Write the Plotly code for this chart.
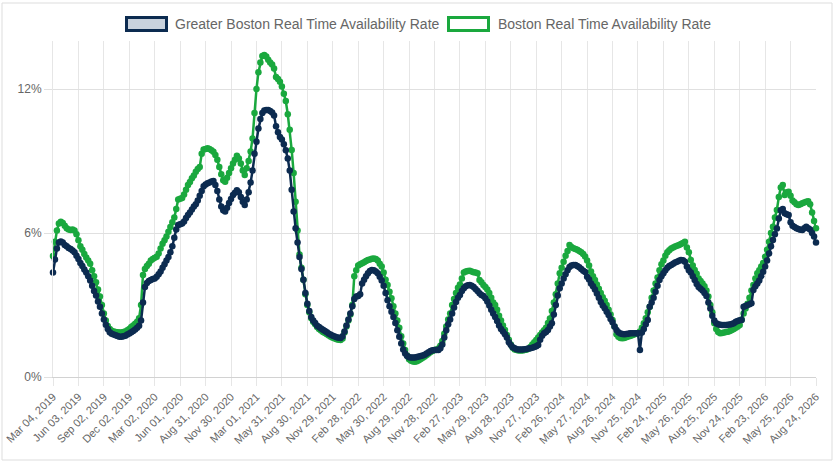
import pandas as pd
import plotly.graph_objects as go

# weekly dates, Mar 04 2019 .. Aug 24 2026
weeks = pd.date_range("2019-03-04", periods=391, freq="7D")

# Greater Boston real time availability rate (%), one row per 13 weeks
greater_boston = [
    4.35, 4.9, 5.35, 5.6, 5.65, 5.6, 5.5, 5.45, 5.38, 5.33, 5.27, 5.2, 5.05,
    4.92, 4.75, 4.62, 4.48, 4.35, 4.2, 4.02, 3.8, 3.58, 3.4, 3.15, 2.93, 2.65,
    2.4, 2.18, 2.0, 1.86, 1.8, 1.77, 1.74, 1.71, 1.68, 1.68, 1.7, 1.72, 1.77,
    1.81, 1.86, 1.92, 1.98, 2.05, 2.14, 2.35, 3.1, 3.75, 3.92, 4.0, 4.04, 4.08,
    4.1, 4.18, 4.28, 4.4, 4.55, 4.7, 4.85, 5.0, 5.2, 5.45, 5.8, 6.15, 6.33,
    6.36, 6.4, 6.48, 6.62, 6.75, 6.85, 6.98, 7.1, 7.2, 7.35, 7.55, 7.75, 7.95,
    8.02, 8.07, 8.1, 8.15, 8.17, 8.0, 7.75, 7.4, 7.1, 6.95, 6.9, 7.05, 7.25,
    7.42, 7.58, 7.68, 7.78, 7.7, 7.5, 7.3, 7.17, 7.4, 7.7, 8.1, 8.6, 9.3,
    9.8, 10.35, 10.75, 11.0, 11.1, 11.12, 11.13, 11.08, 11.02, 10.9, 10.45, 10.2, 10.0,
    9.9, 9.7, 9.45, 9.1, 8.6, 7.8, 6.9, 6.2, 5.6, 5.0, 4.5, 4.05, 3.5,
    3.05, 2.75, 2.5, 2.35, 2.25, 2.14, 2.08, 2.02, 1.97, 1.92, 1.86, 1.8, 1.76,
    1.72, 1.69, 1.66, 1.64, 1.62, 1.7, 1.9, 2.15, 2.4, 2.65, 2.95, 3.25, 3.35,
    3.38, 3.45, 3.9, 4.05, 4.2, 4.32, 4.42, 4.46, 4.45, 4.4, 4.32, 4.18, 4.02,
    3.8, 3.5, 3.2, 2.95, 2.72, 2.5, 2.25, 1.95, 1.68, 1.4, 1.15, 0.98, 0.88,
    0.82, 0.81, 0.81, 0.81, 0.83, 0.85, 0.87, 0.9, 0.93, 0.98, 1.03, 1.08, 1.11,
    1.12, 1.12, 1.12, 1.2, 1.35, 1.65, 1.95, 2.2, 2.4, 2.65, 2.9, 3.12, 3.3,
    3.42, 3.58, 3.7, 3.78, 3.82, 3.83, 3.8, 3.75, 3.67, 3.58, 3.49, 3.42, 3.38,
    3.28, 3.15, 2.98, 2.8, 2.65, 2.5, 2.33, 2.15, 2.0, 1.9, 1.78, 1.65, 1.45,
    1.32, 1.24, 1.2, 1.16, 1.15, 1.15, 1.15, 1.16, 1.17, 1.19, 1.2, 1.22, 1.25,
    1.28, 1.33, 1.55, 1.72, 1.82, 1.88, 1.96, 2.1, 2.24, 2.6, 3.0, 3.4, 3.7,
    3.9, 4.1, 4.28, 4.45, 4.58, 4.65, 4.67, 4.67, 4.63, 4.57, 4.5, 4.43, 4.37,
    4.18, 4.06, 3.9, 3.78, 3.65, 3.48, 3.3, 3.12, 2.98, 2.86, 2.72, 2.58, 2.42,
    2.28, 2.1, 1.96, 1.86, 1.81, 1.79, 1.78, 1.79, 1.8, 1.82, 1.82, 1.82, 1.82,
    1.82, 1.12, 1.85, 2.0, 2.2, 2.37, 2.93, 3.1, 3.3, 3.55, 3.8, 4.04, 4.2,
    4.32, 4.45, 4.55, 4.62, 4.67, 4.72, 4.77, 4.8, 4.84, 4.88, 4.86, 4.8, 4.6,
    4.45, 4.35, 4.2, 4.04, 3.88, 3.75, 3.68, 3.6, 3.5, 3.38, 3.1, 2.85, 2.55,
    2.35, 2.24, 2.2, 2.18, 2.17, 2.17, 2.17, 2.18, 2.19, 2.21, 2.24, 2.3, 2.33,
    2.36, 2.38, 2.93, 2.96, 3.0, 3.03, 3.07, 3.63, 3.78, 3.9, 4.02, 4.2, 4.39,
    4.6, 4.85, 5.15, 5.45, 5.71, 5.95, 6.19, 6.6, 6.95, 7.0, 6.82, 6.78, 6.75,
    6.45, 6.3, 6.25, 6.2, 6.17, 6.14, 6.13, 6.2, 6.26, 6.2, 6.15, 6.0, 5.85,
    5.6,
]

# Boston real time availability rate (%)
boston = [
    5.04, 5.64, 6.1, 6.4, 6.47, 6.42, 6.3, 6.2, 6.15, 6.12, 6.15, 6.1, 5.95,
    5.7, 5.45, 5.3, 5.12, 4.98, 4.85, 4.72, 4.45, 4.2, 3.95, 3.65, 3.35, 3.0,
    2.65, 2.35, 2.12, 2.0, 1.93, 1.9, 1.88, 1.86, 1.85, 1.85, 1.87, 1.9, 1.95,
    2.0, 2.08, 2.15, 2.22, 2.3, 2.45, 3.0, 4.25, 4.5, 4.62, 4.72, 4.85, 4.92,
    4.97, 5.01, 5.15, 5.35, 5.55, 5.7, 5.85, 6.05, 6.25, 6.45, 6.65, 7.0, 7.4,
    7.43, 7.46, 7.6, 7.8, 8.0, 8.12, 8.28, 8.4, 8.55, 8.67, 8.75, 9.3, 9.48,
    9.5, 9.53, 9.5, 9.45, 9.39, 9.25, 9.05, 8.75, 8.45, 8.2, 8.14, 8.3, 8.5,
    8.7, 8.9, 9.05, 9.22, 9.1, 8.9, 8.6, 8.42, 8.7, 9.0, 9.4, 9.94, 11.0,
    12.0, 12.7, 13.1, 13.38, 13.42, 13.35, 13.22, 13.1, 13.02, 12.85, 12.5, 12.42, 12.3,
    12.1, 11.8, 11.5, 10.95, 10.3, 9.46, 8.5, 7.3, 6.1, 5.1, 4.55, 4.05, 3.45,
    3.0, 2.7, 2.45, 2.3, 2.2, 2.08, 2.0, 1.94, 1.88, 1.83, 1.78, 1.73, 1.68,
    1.64, 1.6, 1.57, 1.55, 1.54, 1.6, 1.85, 2.1, 2.35, 2.6, 3.0, 4.2, 4.45,
    4.65, 4.7, 4.74, 4.78, 4.83, 4.88, 4.9, 4.93, 4.94, 4.92, 4.85, 4.72, 4.6,
    4.35, 4.05, 3.83, 3.55, 3.28, 2.95, 2.65, 2.35, 2.05, 1.7, 1.4, 1.12, 0.9,
    0.74, 0.68, 0.65, 0.64, 0.66, 0.7, 0.75, 0.8, 0.85, 0.92, 0.98, 1.04, 1.08,
    1.12, 1.15, 1.19, 1.3, 1.5, 1.8, 2.1, 2.4, 2.65, 3.0, 3.25, 3.5, 3.72,
    3.85, 4.1, 4.35, 4.4, 4.42, 4.43, 4.4, 4.36, 4.35, 4.32, 4.04, 3.95, 3.83,
    3.75, 3.65, 3.5, 3.3, 3.1, 3.0, 2.8, 2.55, 2.35, 2.15, 1.96, 1.75, 1.55,
    1.35, 1.22, 1.15, 1.12, 1.1, 1.1, 1.1, 1.12, 1.14, 1.18, 1.25, 1.35, 1.45,
    1.54, 1.65, 1.75, 1.85, 1.95, 2.05, 2.25, 2.44, 2.75, 3.1, 3.45, 3.9, 4.32,
    4.55, 4.8, 5.05, 5.25, 5.5, 5.42, 5.36, 5.33, 5.3, 5.25, 5.2, 5.12, 5.02,
    4.85, 4.65, 4.4, 4.2, 4.04, 3.85, 3.68, 3.5, 3.32, 3.18, 3.0, 2.8, 2.6,
    2.38, 2.1, 1.78, 1.68, 1.63, 1.61, 1.63, 1.66, 1.69, 1.71, 1.74, 1.77, 1.8,
    1.82, 1.9, 2.05, 2.24, 2.45, 2.7, 2.93, 3.3, 3.6, 3.9, 4.15, 4.45, 4.7,
    4.85, 5.05, 5.2, 5.28, 5.35, 5.4, 5.44, 5.47, 5.5, 5.54, 5.58, 5.64, 5.4,
    5.2, 4.88, 4.65, 4.46, 4.3, 4.1, 4.0, 3.9, 3.78, 3.6, 3.35, 3.0, 2.7,
    2.24, 2.0, 1.88, 1.82, 1.83, 1.85, 1.87, 1.89, 1.92, 1.96, 2.0, 2.05, 2.1,
    2.17, 2.4, 2.65, 2.85, 3.05, 3.3, 3.6, 3.83, 4.1, 4.32, 4.45, 4.6, 4.75,
    5.01, 5.3, 5.64, 6.0, 6.26, 6.65, 6.96, 7.5, 7.9, 8.0, 7.58, 7.7, 7.72,
    7.55, 7.35, 7.28, 7.2, 7.17, 7.2, 7.24, 7.27, 7.3, 7.32, 7.2, 6.85, 6.5,
    6.2,
]

tick_labels = [
    "Mar 04, 2019", "Jun 03, 2019", "Sep 02, 2019", "Dec 02, 2019",
    "Mar 02, 2020", "Jun 01, 2020", "Aug 31, 2020", "Nov 30, 2020",
    "Mar 01, 2021", "May 31, 2021", "Aug 30, 2021", "Nov 29, 2021",
    "Feb 28, 2022", "May 30, 2022", "Aug 29, 2022", "Nov 28, 2022",
    "Feb 27, 2023", "May 29, 2023", "Aug 28, 2023", "Nov 27, 2023",
    "Feb 26, 2024", "May 27, 2024", "Aug 26, 2024", "Nov 25, 2024",
    "Feb 24, 2025", "May 26, 2025", "Aug 25, 2025", "Nov 24, 2025",
    "Feb 23, 2026", "May 25, 2026", "Aug 24, 2026",
]
tick_dates = weeks[::13]
y_ticks = [0, 6, 12]
y_labels = ["0%", "6%", "12%"]

NAVY = "#0c2b50"
GREEN = "#1aa83e"
FONT = "Liberation Sans"

# plot area in pixels (836x464 page)
L, R, T, B = 53, 816, 41, 377


def px(x):
    return (x - L) / (R - L)


def py(y):
    return (B - y) / (B - T)


fig = go.Figure()
# green first so the navy line sits on top
fig.add_trace(go.Scatter(
    x=weeks, y=boston, mode="lines+markers", name="Boston Real Time Availability Rate",
    line=dict(color=GREEN, width=2.5), marker=dict(color=GREEN, size=6.5),
    cliponaxis=False, showlegend=False,
))
fig.add_trace(go.Scatter(
    x=weeks, y=greater_boston, mode="lines+markers",
    name="Greater Boston Real Time Availability Rate",
    line=dict(color=NAVY, width=2.5), marker=dict(color=NAVY, size=6.5),
    cliponaxis=False, showlegend=False,
))

# hand-made legend (chart.js style boxes) and outer frame
shapes = [
    dict(type="rect", xref="paper", yref="paper",
         x0=px(2), x1=px(832), y0=py(460), y1=py(3),
         line=dict(color="#dddddd", width=1), fillcolor="rgba(0,0,0,0)", layer="below"),
    dict(type="rect", xref="paper", yref="paper",
         x0=px(126.5), x1=px(166.5), y0=py(30.5), y1=py(17.5),
         line=dict(color=NAVY, width=3), fillcolor="#c9d2dd"),
    dict(type="rect", xref="paper", yref="paper",
         x0=px(448.5), x1=px(488.5), y0=py(30.5), y1=py(17.5),
         line=dict(color=GREEN, width=3), fillcolor="white"),
]
annotations = [
    dict(xref="paper", yref="paper", x=px(173), y=py(24), xanchor="left", yanchor="middle",
         text="Greater Boston Real Time Availability Rate", showarrow=False,
         font=dict(family=FONT, size=14, color="#666666")),
    dict(xref="paper", yref="paper", x=px(496), y=py(24), xanchor="left", yanchor="middle",
         text="Boston Real Time Availability Rate", showarrow=False,
         font=dict(family=FONT, size=14, color="#666666")),
]

fig.update_layout(
    width=836, height=464,
    margin=dict(l=L, r=836 - R, t=T, b=464 - B),
    paper_bgcolor="white", plot_bgcolor="white",
    font=dict(family=FONT, color="#666666"),
    shapes=shapes, annotations=annotations,
    showlegend=False,
)
fig.update_xaxes(
    type="date", range=[weeks[0], weeks[-1]], automargin=False,
    tickmode="array", tickvals=tick_dates, ticktext=tick_labels, tickangle=-45,
    tickfont=dict(family=FONT, size=11, color="#666666"),
    showgrid=True, gridcolor="#e6e6e6", gridwidth=1,
    ticks="outside", ticklen=8, tickcolor="#e6e6e6",
    showline=True, linecolor="#d2d2d2", zeroline=False,
)
fig.update_yaxes(
    range=[0, 14], automargin=False,
    tickmode="array", tickvals=y_ticks, ticktext=y_labels,
    tickfont=dict(family=FONT, size=12, color="#666666"),
    showgrid=True, gridcolor="#e0e0e0", gridwidth=1,
    ticks="outside", ticklen=8, tickcolor="#e0e0e0",
    showline=True, linecolor="#e6e6e6", zeroline=False,
)

# the page body has a default 8px margin; drop it so the figure sits at (0, 0)
fig.write_html("out.html", config={"displayModeBar": False},
               post_script="document.body.style.margin='0px';")
